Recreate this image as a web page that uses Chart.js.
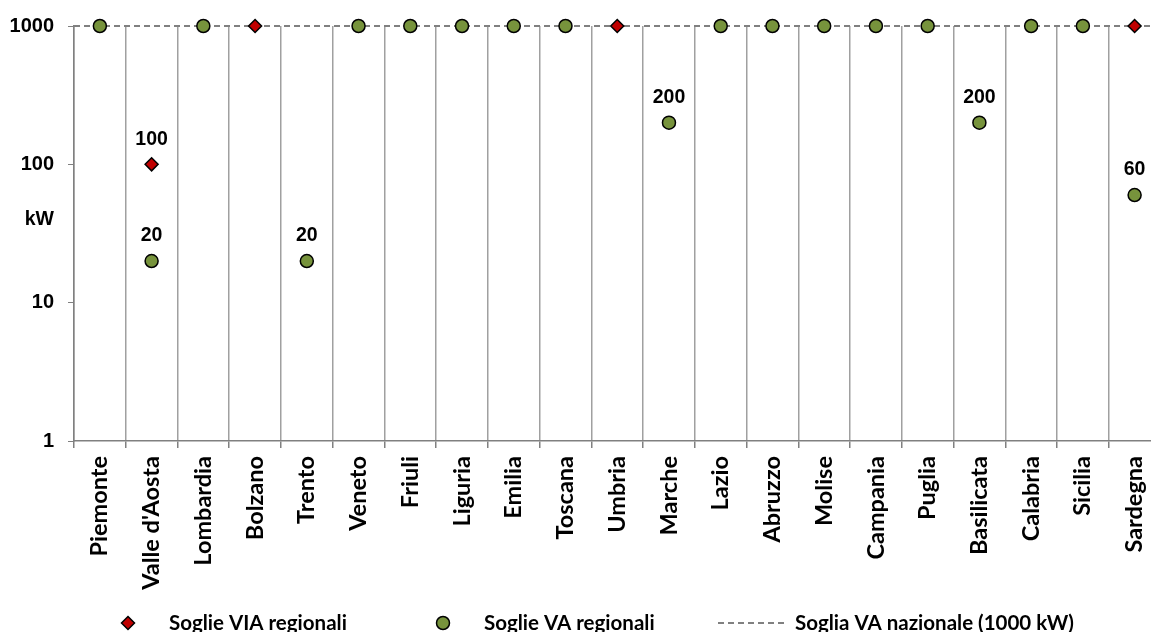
<!DOCTYPE html>
<html><head><meta charset="utf-8">
<script src="https://cdn.jsdelivr.net/npm/chart.js@4/dist/chart.umd.min.js"></script>
<style>
html,body{margin:0;padding:0;background:#fff;overflow:hidden;}
#wrap{position:relative;width:1171px;height:632px;}
</style></head><body>
<div id="wrap"><canvas id="c"></canvas></div>
<script>
// ---- data ----
const categories = ['Piemonte', "Valle d'Aosta", 'Lombardia', 'Bolzano', 'Trento', 'Veneto', 'Friuli', 'Liguria', 'Emilia', 'Toscana', 'Umbria', 'Marche', 'Lazio', 'Abruzzo', 'Molise', 'Campania', 'Puglia', 'Basilicata', 'Calabria', 'Sicilia', 'Sardegna'];
const viaRegionali = [null, 100, null, 1000, null, null, null, null, null, null, 1000, null, null, null, null, null, null, null, null, null, 1000];
const vaRegionali = [1000, 20, 1000, null, 20, 1000, 1000, 1000, 1000, 1000, null, 200, 1000, 1000, 1000, 1000, 1000, 200, 1000, 1000, 60];
const vaNazionale = 1000;
const yTicks = [1, 10, 100, 1000];
const unitLabel = 'kW';
const seriesNames = ['Soglie VIA regionali', 'Soglie VA regionali', 'Soglia VA nazionale (1000 kW)'];

// ---- styles ----
const NUM_FAMILY = '"Liberation Sans", Arial, sans-serif';
const TXT_FAMILY = 'Lato, "Open Sans", sans-serif';
const GRID = '#a0a0a0';
const AXIS = '#808080';

const valueLabels = {
  id: 'valueLabels',
  afterDatasetsDraw(chart) {
    const ctx = chart.ctx;
    ctx.save();
    ctx.font = 'bold 19.5px ' + NUM_FAMILY;
    ctx.fillStyle = '#000';
    ctx.textAlign = 'center';
    ctx.textBaseline = 'middle';
    [0, 1].forEach(di => {
      const ds = chart.data.datasets[di];
      const meta = chart.getDatasetMeta(di);
      ds.data.forEach((v, i) => {
        if (v == null || v === vaNazionale) return;
        const el = meta.data[i];
        ctx.fillText(String(v), el.x, el.y - 25);
      });
    });
    ctx.restore();
  }
};

const unitAndLegend = {
  id: 'unitAndLegend',
  afterDraw(chart) {
    const ctx = chart.ctx;
    const ys = chart.scales.y;
    ctx.save();
    // unit label
    ctx.font = 'bold 19.5px ' + NUM_FAMILY;
    ctx.fillStyle = '#000';
    ctx.textAlign = 'right';
    ctx.textBaseline = 'middle';
    ctx.fillText(unitLabel, chart.chartArea.left - 20, ys.getPixelForValue(40));
    // legend
    const ly = 623;
    const ds = chart.data.datasets;
    const pos = [128, 443, 718];
    ctx.font = 'bold 20.5px ' + TXT_FAMILY;
    ctx.textAlign = 'left';
    [0, 1].forEach(i => {
      ctx.fillStyle = ds[i].pointBackgroundColor;
      ctx.strokeStyle = ds[i].pointBorderColor;
      ctx.lineWidth = ds[i].pointBorderWidth;
      ctx.beginPath();
      if (ds[i].pointStyle === 'rectRot') {
        const r = ds[i].pointRadius;
        ctx.moveTo(pos[i], ly - r); ctx.lineTo(pos[i] + r, ly); ctx.lineTo(pos[i], ly + r); ctx.lineTo(pos[i] - r, ly); ctx.closePath();
      } else {
        ctx.arc(pos[i], ly, ds[i].pointRadius, 0, Math.PI * 2);
      }
      ctx.fill(); ctx.stroke();
      ctx.fillStyle = '#000';
      ctx.fillText(ds[i].label, pos[i] + 41, ly);
    });
    ctx.strokeStyle = ds[2].borderColor;
    ctx.lineWidth = ds[2].borderWidth;
    ctx.setLineDash(ds[2].borderDash);
    ctx.beginPath();
    ctx.moveTo(pos[2], ly); ctx.lineTo(pos[2] + 69, ly);
    ctx.stroke();
    ctx.setLineDash([]);
    ctx.fillStyle = '#000';
    ctx.fillText(ds[2].label, pos[2] + 77, ly);
    ctx.restore();
  }
};

new Chart(document.getElementById('c'), {
  type: 'line',
  data: {
    labels: categories,
    datasets: [
      {
        label: seriesNames[0], data: viaRegionali, showLine: false, clip: false,
        pointStyle: 'rectRot', pointRadius: 6.5, pointHoverRadius: 6.5,
        pointBackgroundColor: '#C00000', pointBorderColor: '#000', pointBorderWidth: 1.5,
        backgroundColor: '#C00000', borderColor: '#000'
      },
      {
        label: seriesNames[1], data: vaRegionali, showLine: false, clip: false,
        pointStyle: 'circle', pointRadius: 6.5, pointHoverRadius: 6.5,
        pointBackgroundColor: '#77933C', pointBorderColor: '#000', pointBorderWidth: 1.5,
        backgroundColor: '#77933C', borderColor: '#000'
      },
      {
        label: seriesNames[2], xAxisID: 'xl',
        data: [{ x: -0.5, y: vaNazionale }, { x: categories.length - 0.5, y: vaNazionale }],
        borderColor: '#808080', borderWidth: 2, borderDash: [6, 4], pointRadius: 0, clip: false
      }
    ]
  },
  options: {
    responsive: true, maintainAspectRatio: false, animation: false,
    layout: { padding: { top: 24, left: 0, right: 0, bottom: 0 } },
    plugins: { legend: { display: false }, tooltip: { enabled: false } },
    scales: {
      x: {
        type: 'category', offset: true,
        grid: { offset: true, color: GRID, lineWidth: 1.5, tickLength: 7, tickColor: AXIS, drawOnChartArea: true },
        border: { display: true, color: AXIS, width: 1.5 },
        ticks: {
          autoSkip: false, maxRotation: 90, minRotation: 90, padding: 8, color: '#000',
          font: { family: TXT_FAMILY, size: 23.5, weight: 'bold' }
        },
        afterFit(s) { s.height = 191; }
      },
      xl: { type: 'linear', display: false, min: -0.5, max: categories.length - 0.5 },
      y: {
        type: 'logarithmic', min: 1, max: 1000,
        afterBuildTicks(s) { s.ticks = yTicks.map(v => ({ value: v })); },
        afterFit(s) { s.width = 74; },
        grid: { drawOnChartArea: false, tickLength: 6, tickColor: AXIS },
        border: { display: true, color: AXIS, width: 1.5 },
        ticks: {
          padding: 14, color: '#000',
          font: { family: NUM_FAMILY, size: 20, weight: 'bold' },
          callback: v => String(v)
        }
      }
    }
  },
  plugins: [valueLabels, unitAndLegend]
});
</script>
</body></html>
